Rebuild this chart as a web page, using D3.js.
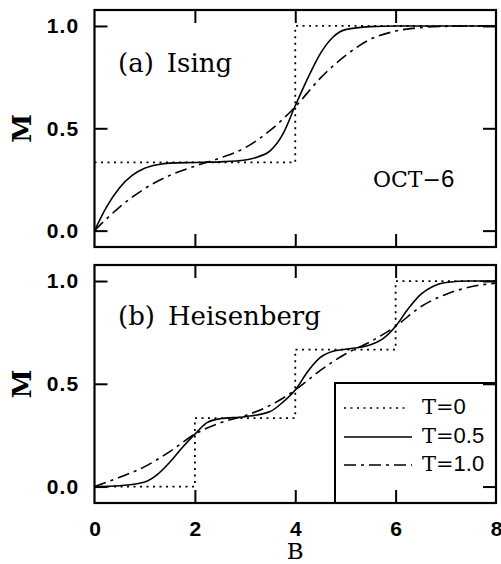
<!DOCTYPE html>
<html><head><meta charset="utf-8">
<script src="https://cdn.jsdelivr.net/npm/d3@7"></script>
<style>body{margin:0;background:#fff}svg{display:block}</style>
</head><body>
<script>
// ---- data ----
const xTicks = [0, 2, 4, 6, 8];
const yTicks = [0, 0.5, 1.0];
const yTickLabels = ["0.0", "0.5", "1.0"];
const seriesNames = ["T=0", "T=0.5", "T=1.0"];

// Ising (panel a)
const isingT0B = [0, 4, 8];
const isingT0M = [1/3, 1, 1];
const isingT05B = [0,0.25,0.5,0.75,1,1.25,1.5,2,2.5,3,3.25,3.5,3.75,4,4.25,4.5,4.75,5,5.5,6,7,8];
const isingT05M = [0,0.12,0.21,0.27,0.305,0.322,0.33,0.333,0.336,0.345,0.36,0.39,0.47,0.61,0.745,0.865,0.945,0.982,0.997,1,1,1];
const isingT10B = [0,0.25,0.5,1,1.5,2,2.5,3,3.5,4,4.5,5,5.5,6,6.5,7,7.5,8];
const isingT10M = [0,0.06,0.115,0.205,0.27,0.315,0.355,0.405,0.49,0.605,0.745,0.855,0.935,0.975,0.992,0.998,1,1];

// Heisenberg (panel b)
const heisT0B = [0, 2, 4, 6, 8];
const heisT0M = [0, 1/3, 2/3, 1, 1];
const heisT05B = [0,0.5,1,1.25,1.5,1.75,2,2.25,2.5,3,3.5,3.75,4,4.25,4.5,4.75,5,5.5,5.75,6,6.25,6.5,6.75,7,7.5,8];
const heisT05M = [0,0.004,0.022,0.058,0.118,0.19,0.255,0.312,0.33,0.34,0.365,0.41,0.47,0.56,0.628,0.658,0.668,0.69,0.72,0.78,0.865,0.935,0.975,0.993,1,1];
const heisT10B = [0,0.5,1,1.5,2,2.5,3,3.5,4,4.5,5,5.5,6,6.5,7,7.5,8];
const heisT10M = [0,0.045,0.097,0.17,0.255,0.31,0.345,0.395,0.47,0.565,0.645,0.705,0.78,0.875,0.935,0.972,0.99];

// ---- layout ----
const W = 501, H = 564;
const svg = d3.select("body").append("svg").attr("width", W).attr("height", H);
const x = d3.scaleLinear().domain([0, 8]).range([94.5, 496]);
const panels = [
  {top: 10, bottom: 247, tag: "(a)", name: "Ising", labelY: 72,
   series: [[isingT0B, isingT0M, true], [isingT05B, isingT05M, false], [isingT10B, isingT10M, false]]},
  {top: 265, bottom: 503, tag: "(b)", name: "Heisenberg", labelY: 325,
   series: [[heisT0B, heisT0M, true], [heisT05B, heisT05M, false], [heisT10B, heisT10M, false]]}
];
const dashes = ["2,4.5", null, "12,5,3,5"];
const sans = "'Liberation Sans', Arial, Helvetica, sans-serif";
const serif = "'DejaVu Serif', 'Liberation Serif', serif";

panels.forEach((p, pi) => {
  const y = d3.scaleLinear().domain([-0.08, 1.078]).range([p.bottom, p.top]);
  p.y = y;
  const g = svg.append("g");
  // curves
  p.series.forEach((s, si) => {
    const pts = s[0].map((b, i) => [b, s[1][i]]);
    const line = d3.line().x(d => x(d[0])).y(d => y(d[1]))
      .curve(s[2] ? d3.curveStepAfter : d3.curveMonotoneX);
    g.append("path").attr("d", line(pts)).attr("fill", "none")
      .attr("stroke", "#000").attr("stroke-width", s[2] ? 1.8 : 1.6)
      .attr("stroke-dasharray", dashes[si]);
  });
  // axes (inward ticks)
  const left = g.append("g").attr("transform", `translate(${x(0)},0)`)
    .call(d3.axisLeft(y).tickValues(yTicks).tickSizeInner(-13).tickSizeOuter(0).tickPadding(15)
      .tickFormat((d, i) => yTickLabels[i]));
  const right = g.append("g").attr("transform", `translate(${x(8)},0)`)
    .call(d3.axisRight(y).tickValues(yTicks).tickSizeInner(-13).tickSizeOuter(0).tickFormat(""));
  const topA = g.append("g").attr("transform", `translate(0,${p.top})`)
    .call(d3.axisTop(x).tickValues([2, 4, 6]).tickSizeInner(-13).tickSizeOuter(0).tickFormat(""));
  const bot = g.append("g").attr("transform", `translate(0,${p.bottom})`)
    .call(d3.axisBottom(x).tickValues(pi === 1 ? xTicks : [2, 4, 6]).tickSizeInner(-13).tickSizeOuter(0).tickPadding(18)
      .tickFormat(pi === 1 ? d3.format("d") : ""));
  [left, right, topA, bot].forEach(a => {
    a.select(".domain").remove();
    a.selectAll(".tick line").attr("stroke-width", 2);
    a.selectAll("text").attr("font-family", sans).attr("font-size", 21).attr("font-weight", "bold").attr("fill", "#000");
  });
  left.selectAll("text").attr("letter-spacing", 1.2);
  bot.selectAll(".tick").filter(d => d === 0 || d === 8).select("line").remove();
  // frame
  g.append("rect").attr("x", x(0)).attr("y", p.top).attr("width", x(8) - x(0)).attr("height", p.bottom - p.top)
    .attr("fill", "none").attr("stroke", "#000").attr("stroke-width", 2.2);
  // y label
  g.append("text").attr("transform", `translate(31,${y(0.5)}) rotate(-90)`)
    .attr("text-anchor", "middle").attr("font-family", serif).attr("font-size", 26).attr("font-weight", "bold")
    .text("M");
  // panel label
  const lt = g.append("text").attr("x", 118).attr("y", p.labelY).attr("font-family", serif).attr("font-size", 26);
  lt.append("tspan").text(p.tag);
  lt.append("tspan").attr("dx", 13).text(p.name);
});

// OCT-6
const oct = svg.append("text").attr("x", 373).attr("y", 187).attr("font-family", serif).attr("font-size", 22);
oct.append("tspan").text("OCT\u2212");
oct.append("tspan").attr("font-family", sans).attr("font-size", 24).text("6");

// x label
svg.append("text").attr("x", x(4)).attr("y", 559).attr("text-anchor", "middle")
  .attr("font-family", serif).attr("font-size", 23).text("B");

// legend
const lg = svg.append("g");
lg.append("rect").attr("x", 335).attr("y", 383).attr("width", x(8) - 335).attr("height", panels[1].bottom - 383)
  .attr("fill", "none").attr("stroke", "#000").attr("stroke-width", 2);
const legY = [408, 437, 465];
const legX2 = [405, 412, 412];
seriesNames.forEach((name, i) => {
  lg.append("line").attr("x1", 344).attr("x2", legX2[i]).attr("y1", legY[i]).attr("y2", legY[i])
    .attr("stroke", "#000").attr("stroke-width", 1.6).attr("stroke-dasharray", dashes[i]);
  const t = lg.append("text").attr("x", 422).attr("y", legY[i] + 6).attr("font-size", 21);
  t.append("tspan").attr("font-family", serif).text("T=");
  t.append("tspan").attr("font-family", sans).attr("font-size", 22).text(name.slice(2));
});
</script>
</body></html>
